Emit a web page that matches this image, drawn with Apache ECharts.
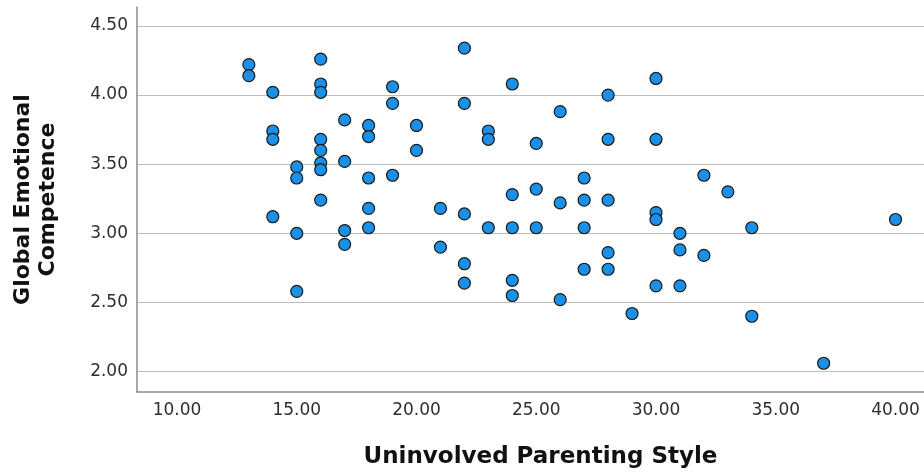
<!DOCTYPE html>
<html>
<head>
<meta charset="utf-8">
<title>Uninvolved Parenting Style vs Global Emotional Competence</title>
<script src="https://cdn.jsdelivr.net/npm/echarts@6/dist/echarts.min.js"></script>
<style>
  html, body { margin: 0; padding: 0; background: #ffffff; }
  #chart { width: 924px; height: 475px; }
</style>
</head>
<body>
<div id="chart"></div>
<script>
// Uninvolved parenting score for each respondent
const parentingScores = [
  13, 13,
  14, 14, 14, 14,
  15, 15, 15, 15,
  16, 16, 16, 16, 16, 16, 16, 16,
  17, 17, 17, 17,
  18, 18, 18, 18, 18,
  19, 19, 19,
  20, 20,
  21, 21,
  22, 22, 22, 22, 22,
  23, 23, 23,
  24, 24, 24, 24, 24,
  25, 25, 25,
  26, 26, 26,
  27, 27, 27, 27,
  28, 28, 28, 28, 28,
  29,
  30, 30, 30, 30, 30,
  31, 31, 31,
  32, 32,
  33,
  34, 34,
  37,
  40
];

// Global emotional competence score for the same respondents
const competenceScores = [
  4.22, 4.14,
  4.02, 3.74, 3.68, 3.12,
  3.48, 3.40, 3.00, 2.58,
  4.26, 4.08, 4.02, 3.68, 3.60, 3.51, 3.46, 3.24,
  3.82, 3.52, 3.02, 2.92,
  3.78, 3.70, 3.40, 3.18, 3.04,
  4.06, 3.94, 3.42,
  3.78, 3.60,
  3.18, 2.90,
  4.34, 3.94, 3.14, 2.78, 2.64,
  3.74, 3.68, 3.04,
  4.08, 3.28, 3.04, 2.66, 2.55,
  3.65, 3.32, 3.04,
  3.88, 3.22, 2.52,
  3.40, 3.24, 3.04, 2.74,
  4.00, 3.68, 3.24, 2.86, 2.74,
  2.42,
  4.12, 3.68, 3.15, 3.10, 2.62,
  3.00, 2.88, 2.62,
  3.42, 2.84,
  3.30,
  3.04, 2.40,
  2.06,
  3.10
];

// Tick positions on each axis
const xTicks = [10, 15, 20, 25, 30, 35, 40];
const yTicks = [2.0, 2.5, 3.0, 3.5, 4.0, 4.5];

const xTitle = 'Uninvolved Parenting Style';
const yTitle = 'Global Emotional\nCompetence';

const points = parentingScores.map((x, i) => [x, competenceScores[i]]);

const chart = echarts.init(document.getElementById('chart'), null, { renderer: 'canvas' });

chart.setOption({
  animation: false,
  backgroundColor: '#ffffff',
  grid: { left: 137, top: 7, right: 0, bottom: 83, containLabel: false },
  xAxis: {
    type: 'value',
    min: 8.33,
    max: 41.19,
    name: xTitle,
    nameLocation: 'middle',
    nameGap: 54,
    nameTextStyle: {
      fontFamily: 'DejaVu Sans',
      fontWeight: 'bold',
      fontSize: 23,
      color: '#111111',
      padding: [0, 0, 0, 20]
    },
    axisLine: { show: true, onZero: false, lineStyle: { color: '#8c8c8c', width: 1.5 } },
    axisTick: { show: false, customValues: xTicks },
    axisLabel: {
      customValues: xTicks,
      formatter: v => v.toFixed(2),
      fontFamily: 'DejaVu Sans',
      fontSize: 17,
      color: '#2e2e2e',
      margin: 10
    },
    splitLine: { show: false }
  },
  yAxis: {
    type: 'value',
    min: 1.852,
    max: 4.637,
    name: yTitle,
    nameLocation: 'middle',
    nameGap: 76,
    nameRotate: 90,
    nameTextStyle: {
      fontFamily: 'DejaVu Sans',
      fontWeight: 'bold',
      fontSize: 22,
      lineHeight: 25,
      color: '#111111',
      align: 'center'
    },
    axisLine: { show: true, onZero: false, lineStyle: { color: '#8c8c8c', width: 1.5 } },
    axisTick: { show: false, customValues: yTicks },
    axisLabel: {
      customValues: yTicks,
      formatter: v => v.toFixed(2),
      fontFamily: 'DejaVu Sans',
      fontSize: 17,
      color: '#2e2e2e',
      margin: 9
    },
    splitLine: { show: true, lineStyle: { color: '#bdbdbd', width: 1.2 } }
  },
  series: [{
    type: 'scatter',
    data: points,
    symbol: 'circle',
    symbolSize: 12,
    itemStyle: {
      color: '#1a90e8',
      borderColor: '#1a1a1a',
      borderWidth: 1.2,
      opacity: 1
    },
    emphasis: { disabled: true }
  }]
});
</script>
</body>
</html>
